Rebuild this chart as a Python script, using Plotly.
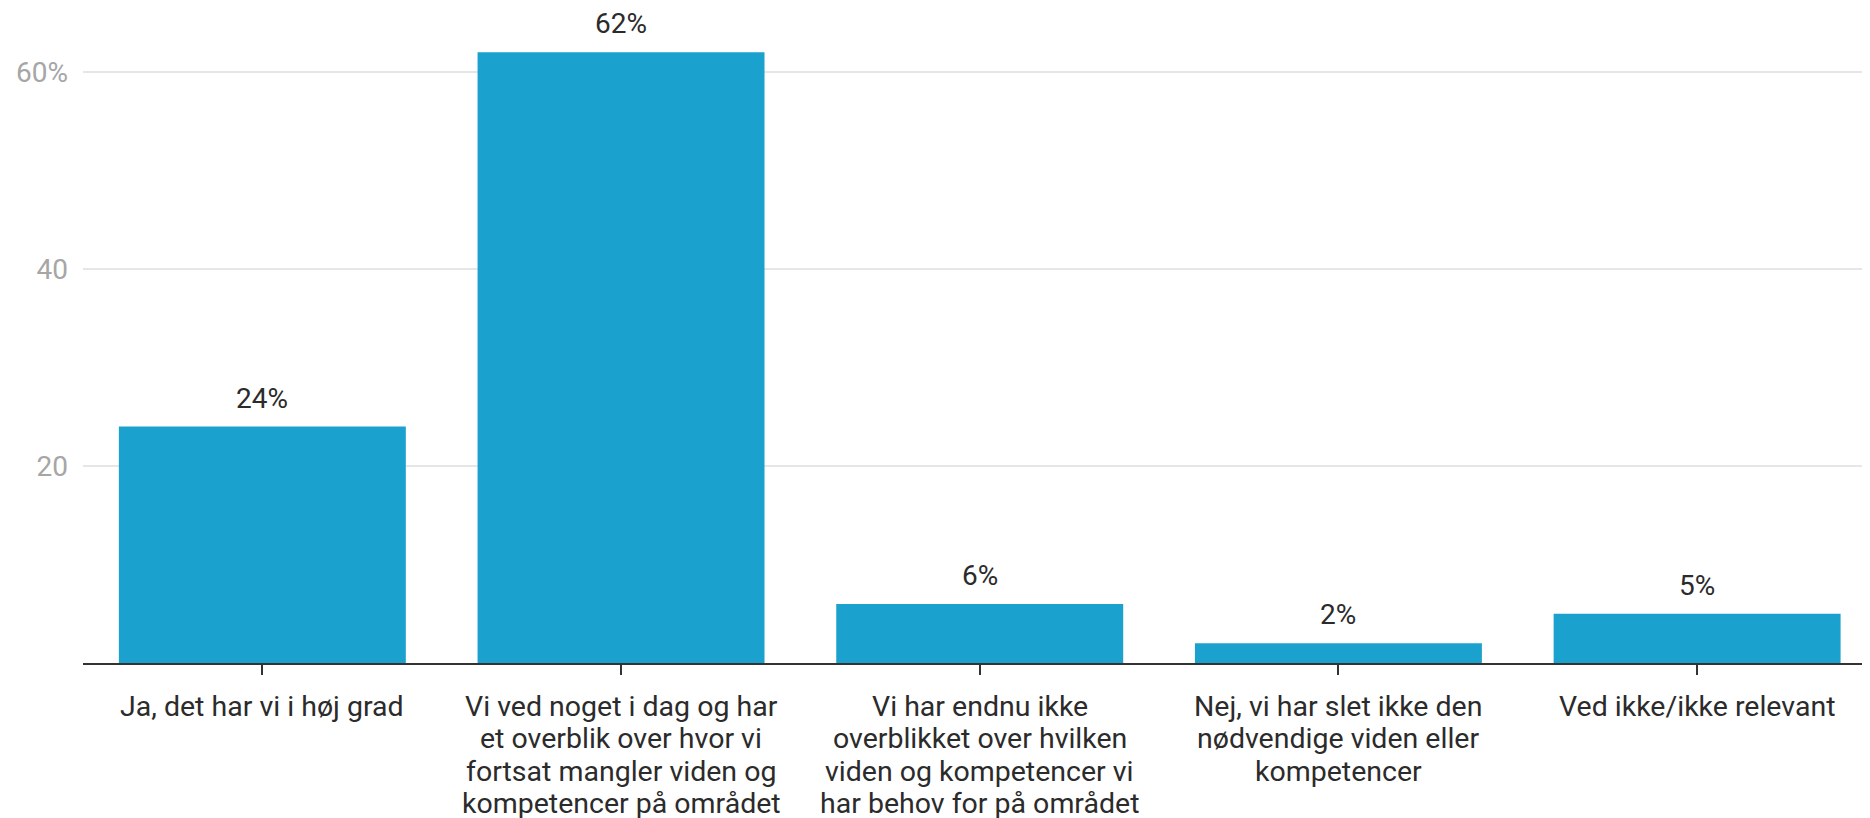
import plotly.graph_objects as go

categories = [
    "Ja, det har vi i høj grad",
    "Vi ved noget i dag og har<br>et overblik over hvor vi<br>fortsat mangler viden og<br>kompetencer på området",
    "Vi har endnu ikke<br>overblikket over hvilken<br>viden og kompetencer vi<br>har behov for på området",
    "Nej, vi har slet ikke den<br>nødvendige viden eller<br>kompetencer",
    "Ved ikke/ikke relevant",
]
values = [24, 62, 6, 2, 5]
value_labels = ["24%", "62%", "6%", "2%", "5%"]
y_tickvals = [20, 40, 60]
y_ticktext = ["20", "40", "60%"]

BAR_COLOR = "#1ba1cd"
FONT = "Roboto"
TEXT_COLOR = "#2b2b2b"

fig = go.Figure()
fig.add_trace(go.Bar(
    x=categories,
    y=values,
    marker=dict(color=BAR_COLOR, line=dict(width=0)),
    hoverinfo="skip",
))

# value labels above bars
for c, v, t in zip(categories, values, value_labels):
    fig.add_annotation(
        x=c, y=v, text=t, showarrow=False,
        yanchor="bottom", yshift=10,
        font=dict(family=FONT, size=28, color=TEXT_COLOR),
    )

# category labels below the axis, one text line each (tighter line spacing)
LINE_GAP = 32.3
for c in categories:
    for i, line in enumerate(c.split("<br>")):
        fig.add_annotation(
            x=c, xref="x", y=0, yref="paper", text=line, showarrow=False,
            xanchor="center", yanchor="top", yshift=-25 - i * LINE_GAP,
            font=dict(family=FONT, size=28.5, color=TEXT_COLOR),
        )

fig.update_layout(
    width=1862, height=810,
    margin=dict(l=75, r=0, t=0, b=155),
    paper_bgcolor="white", plot_bgcolor="white",
    bargap=0.2,
    showlegend=False,
    font=dict(family=FONT, size=28, color=TEXT_COLOR),
)
fig.update_xaxes(
    type="category",
    range=[-0.5, 4.482],
    automargin=False,
    showline=True, linecolor="#333333", linewidth=2,
    ticks="outside", ticklen=10, tickwidth=2, tickcolor="#333333",
    showticklabels=False,
    showgrid=False,
)
fig.update_yaxes(
    range=[0, 66.5],
    automargin=False,
    tickvals=y_tickvals, ticktext=y_ticktext,
    showgrid=True, gridcolor="#e6e6e6", gridwidth=2,
    zeroline=False, showline=False,
    ticks="", ticklabelstandoff=14,
    tickfont=dict(family=FONT, size=28, color="#a6a6a6"),
)

fig.write_html("out.html")
